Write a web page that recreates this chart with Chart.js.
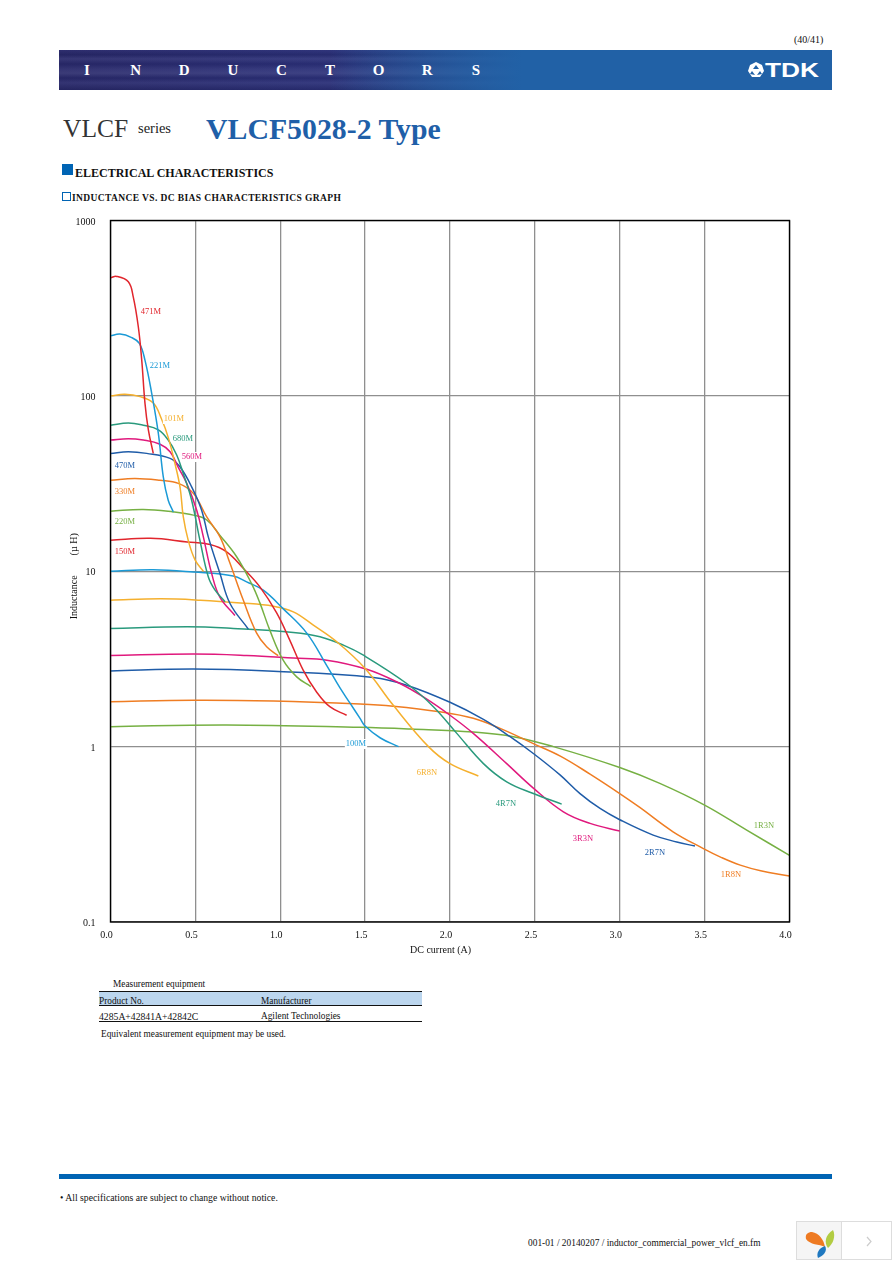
<!DOCTYPE html>
<html>
<head>
<meta charset="utf-8">
<title>VLCF5028-2 Type</title>
<script src="https://cdn.jsdelivr.net/npm/chart.js@4"></script>
<style>
  html, body { margin: 0; padding: 0; background: #fff; }
  body { position: relative; width: 892px; height: 1263px; overflow: hidden; font-family: "Liberation Serif", serif; color: #111; }
  .t { position: absolute; white-space: nowrap; line-height: 1; }
  .box { position: absolute; }
  #banner {
    position: absolute; left: 59px; top: 50px; width: 773px; height: 40px;
    background:
      linear-gradient(90deg, rgba(33,96,166,0) 0, rgba(33,96,166,0) 35%, #2161a6 60%),
      linear-gradient(180deg, rgba(255,255,255,.03) 0, rgba(0,0,0,.08) 12%, rgba(255,255,255,.07) 22%, rgba(0,0,0,.05) 35%, rgba(255,255,255,.06) 48%, rgba(255,255,255,.09) 58%, rgba(0,0,0,.06) 70%, rgba(255,255,255,.06) 82%, rgba(0,0,0,.1) 100%),
      linear-gradient(90deg, #28286a 0, #2a2f78 35%, #2c4f93 60%, #2161a6 80%);
  }
  #banner span { position: absolute; top: 13px; width: 30px; margin-left: -15px; text-align: center; color: #fff; font-weight: bold; font-size: 15px; line-height: 1; }
  #chartBox { position: absolute; left: 60px; top: 210px; }
</style>
</head>
<body>
<div class="t" style="left:794px;top:35px;font-size:10px">(40/41)</div>
<div id="banner"></div>
<svg class="box" style="left:748px;top:61px" width="72" height="18" viewBox="0 0 72 18">
  <polygon points="8,1 14,4 16,10 12,16 4,16 0,10 2,4" fill="#fff"/>
  <polygon points="8,4 11,8 5,8" fill="#2161a6"/>
  <polygon points="4,10 7,14 2,13" fill="#2161a6"/>
  <polygon points="12,10 14,13 9,14" fill="#2161a6"/>
  <text x="17" y="16" font-family="Liberation Sans" font-weight="bold" font-size="20" fill="#fff" textLength="54" lengthAdjust="spacingAndGlyphs">TDK</text>
</svg>

<div class="t" style="left:63px;top:116px;font-size:25.5px;color:#333">VLCF</div>
<div class="t" style="left:138px;top:121px;font-size:14.5px;color:#222">series</div>
<div class="t" style="left:206px;top:114px;font-size:29.8px;font-weight:bold;color:#1f5fa8">VLCF5028-2 Type</div>

<div class="box" style="left:62px;top:164px;width:11px;height:11px;background:#0064b4"></div>
<div class="t" style="left:75px;top:167px;font-size:12px;font-weight:bold">ELECTRICAL CHARACTERISTICS</div>
<div class="box" style="left:62px;top:192px;width:7px;height:7px;border:1px solid #0064b4"></div>
<div class="t" style="left:72px;top:194px;font-size:9.5px;font-weight:bold;letter-spacing:.38px">INDUCTANCE VS. DC BIAS CHARACTERISTICS GRAPH</div>

<div id="chartBox"><canvas id="inductance-chart" width="740" height="750"></canvas></div>
<div class="t" style="left:410px;top:945px;font-size:10px">DC current (A)</div>

<div class="t" style="left:113px;top:980px;font-size:9.3px">Measurement equipment</div>
<div class="box" style="left:99px;top:991px;width:323px;height:15px;background:#bcd6ee;border-top:1px solid #111;border-bottom:1px solid #111;box-sizing:border-box"></div>
<div class="t" style="left:99px;top:997px;font-size:9.3px">Product No.</div>
<div class="t" style="left:261px;top:997px;font-size:9.3px">Manufacturer</div>
<div class="t" style="left:99px;top:1012px;font-size:9.7px">4285A+42841A+42842C</div>
<div class="t" style="left:261px;top:1012px;font-size:9.3px">Agilent Technologies</div>
<div class="box" style="left:99px;top:1021px;width:323px;height:1px;background:#111"></div>
<div class="t" style="left:101px;top:1030px;font-size:9.3px">Equivalent measurement equipment may be used.</div>

<div class="box" style="left:59px;top:1174px;width:773px;height:5px;background:#0064b4"></div>
<div class="t" style="left:60px;top:1193px;font-size:9.7px">• All specifications are subject to change without notice.</div>
<div class="t" style="left:528px;top:1239px;font-size:9.4px">001-01 / 20140207 / inductor_commercial_power_vlcf_en.fm</div>

<div class="box" style="left:796px;top:1221px;width:46px;height:39px;background:#f5f5f5;border:1px solid #ddd;box-sizing:border-box"></div>
<div class="box" style="left:842px;top:1221px;width:50px;height:39px;background:#fff;border:1px solid #ddd;border-left:0;box-sizing:border-box"></div>
<svg class="box" style="left:804px;top:1228px" width="80" height="32" viewBox="0 0 80 32">
  <path d="M2 11 C1 6 4 4 8 4 C15 5 20 12 21 19 C15 16 6 17 2 11Z" fill="#ee7a22"/>
  <path d="M24 20 C20 15 21 7 29 2 C32 8 29 16 24 20Z" fill="#b2cc42"/>
  <path d="M21 18 C24 23 19 28 14 30 C12 25 15 20 21 18Z" fill="#1f78c0"/>
  <polyline points="63,9 67,13.5 63,18" fill="none" stroke="#ccc" stroke-width="1.2"/>
</svg>

<script>
const seriesNames = ['471M', '221M', '101M', '680M', '560M', '470M', '330M', '220M', '150M', '100M', '6R8N', '4R7N', '3R3N', '2R7N', '1R8N', '1R3N'];
const seriesColors = ['#e1262d', '#1b9ad6', '#f5b02e', '#2a9a7d', '#e0197d', '#1f5ca8', '#ef7d23', '#76b043', '#e1262d', '#1b9ad6', '#f5b02e', '#2a9a7d', '#e0197d', '#1f5ca8', '#ef7d23', '#76b043'];

// DC current (A) / inductance (uH)
const amps471M = [0, .036, .105, .134, .164, .184, .203, .223, .252];
const uh471M = [471, 480, 447, 367, 247, 160, 91, 64, 47];
const amps221M = [0, .056, .125, .17, .203, .243, .282, .311, .34, .37];
const uh221M = [220, 225, 215, 199, 160, 103, 61, 34.5, 25.4, 21.8];
const amps101M = [0, .085, .174, .252, .3, .34, .38, .41, .429, .458, .498, .547];
const uh101M = [100, 102, 99, 91, 74, 58, 41, 30, 20.4, 15, 11.6, 10];
const amps680M = [0, .105, .193, .282, .34, .39, .429, .478, .527, .576, .616, .675];
const uh680M = [68, 70, 68, 64, 56, 46, 36, 25.4, 15, 9.3, 7.8, 6.7];
const amps560M = [0, .105, .193, .292, .351, .4, .449, .508, .547, .596, .645, .733];
const uh560M = [56, 57, 56, 53, 48, 39, 31.7, 22.3, 15.7, 9.7, 7.1, 5.6];
const amps470M = [0, .105, .213, .351, .409, .478, .537, .576, .645, .704, .812];
const uh470M = [47, 48, 47, 44, 39.4, 30.3, 22.3, 15.7, 9.7, 6.55, 4.68];
const amps330M = [0, .144, .292, .4, .488, .567, .645, .704, .782, .861, .92, .988];
const uh330M = [33, 33.8, 33, 31.7, 27.8, 20.4, 15.7, 11.1, 6.85, 4.44, 3.71, 3.3];
const amps220M = [0, .193, .37, .488, .567, .645, .743, .831, .88, .939, 1.018, 1.097, 1.18];
const uh220M = [22, 22.5, 21.8, 20.9, 19.6, 16, 12.1, 8.5, 6.6, 4.6, 3.1, 2.5, 2.2];
const amps150M = [0, .236, .452, .586, .684, .782, .88, .978, 1.056, 1.135, 1.214, 1.292, 1.391];
const uh150M = [15, 15.4, 14.7, 14.2, 12.9, 10.4, 8.15, 5.8, 4.05, 2.73, 2.05, 1.69, 1.51];
const amps100M = [0, .252, .488, .723, .802, .9, 1.018, 1.156, 1.274, 1.352, 1.411, 1.47, 1.5, 1.59, 1.697];
const uh100M = [10, 10.2, 9.9, 9.4, 8.7, 7.8, 6.1, 4.44, 2.9, 2.16, 1.77, 1.45, 1.31, 1.12, 1];
const amps6R8N = [0, .295, .53, .766, .96, 1.077, 1.195, 1.333, 1.5, 1.666, 1.873, 2, 2.167];
const uh6R8N = [6.84, 6.96, 6.84, 6.6, 6.32, 5.87, 4.93, 3.96, 2.79, 1.72, 1, .8, .68];
const amps4R7N = [0, .452, .723, 1.077, 1.234, 1.372, 1.49, 1.745, 1.902, 2.04, 2.197, 2.334, 2.491, 2.658];
const uh4R7N = [4.72, 4.82, 4.72, 4.48, 4.23, 3.79, 3.32, 2.29, 1.69, 1.19, .8, .63, .54, .47];
const amps3R3N = [0, .488, .802, 1.077, 1.274, 1.51, 1.705, 1.843, 2, 2.137, 2.334, 2.491, 2.668, 2.825, 3];
const uh3R3N = [3.31, 3.37, 3.31, 3.2, 3.11, 2.76, 2.29, 1.92, 1.51, 1.19, .8, .58, .425, .365, .33];
const amps2R7N = [0, .488, .96, 1.548, 1.745, 2, 2.197, 2.354, 2.491, 2.648, 2.766, 2.884, 3, 3.197, 3.336, 3.443];
const uh2R7N = [2.7, 2.77, 2.69, 2.48, 2.24, 1.79, 1.43, 1.14, .914, .69, .54, .444, .383, .313, .286, .271];
const amps1R8N = [0, .488, .96, 1.47, 1.666, 1.94, 2.137, 2.295, 2.491, 2.65, 2.825, 3, 3.118, 3.314, 3.49, 3.6, 3.71, 3.83, 4];
const uh1R8N = [1.8, 1.84, 1.82, 1.75, 1.7, 1.58, 1.45, 1.27, 1.04, .883, .697, .54, .45, .327, .263, .233, .211, .196, .183];
const amps1R3N = [0, .684, 1.47, 1.77, 2.137, 2.373, 2.609, 3, 3.236, 3.5, 3.748, 4];
const uh1R3N = [1.3, 1.33, 1.29, 1.26, 1.21, 1.14, 1, .76, .617, .464, .334, .24];

const allAmps = [amps471M, amps221M, amps101M, amps680M, amps560M, amps470M, amps330M, amps220M, amps150M, amps100M, amps6R8N, amps4R7N, amps3R3N, amps2R7N, amps1R8N, amps1R3N];
const allUh = [uh471M, uh221M, uh101M, uh680M, uh560M, uh470M, uh330M, uh220M, uh150M, uh100M, uh6R8N, uh4R7N, uh3R3N, uh2R7N, uh1R8N, uh1R3N];

const yTicks = [0.1, 1, 10, 100, 1000];
// where each curve's name sits, canvas pixels
const labelSpots = [[91, 102], [100, 156], [114, 209], [123, 229], [132, 247], [65, 256], [65, 282], [65, 312], [65, 342], [296, 534], [367, 563], [446, 594], [523, 629], [595, 643], [671, 665], [704, 616]];

const curveLabels = {
  id: 'curveLabels',
  afterDatasetsDraw(chart) {
    const ctx = chart.ctx, a = chart.chartArea;
    ctx.save();
    // full black frame, chart.js only borders two sides
    ctx.strokeStyle = '#000';
    ctx.lineWidth = 1.4;
    ctx.strokeRect(a.left, a.top, a.right - a.left, a.bottom - a.top);
    ctx.font = '8.5px "Liberation Serif"';
    ctx.textAlign = 'center';
    ctx.textBaseline = 'middle';
    seriesNames.forEach((name, i) => {
      const [x, y] = labelSpots[i];
      const w = ctx.measureText(name).width + 2;
      ctx.fillStyle = '#fff';
      ctx.fillRect(x - w / 2, y - 5, w, 10);
      ctx.fillStyle = seriesColors[i];
      ctx.fillText(name, x, y);
    });
    ctx.restore();
  }
};

const chartCanvas = document.getElementById('inductance-chart');
new Chart(chartCanvas, {
  type: 'scatter',
  data: {
    datasets: seriesNames.map((name, i) => ({
      label: name,
      data: allAmps[i].map((a, j) => ({ x: a, y: allUh[i][j] })),
      showLine: true,
      borderColor: seriesColors[i],
      borderWidth: 1.5,
      pointRadius: 0,
      tension: 0.4
    }))
  },
  options: {
    responsive: false,
    animation: false,
    devicePixelRatio: 1,
    plugins: { legend: { display: false }, tooltip: { enabled: false } },
    scales: {
      x: {
        type: 'linear',
        min: 0,
        max: 4,
        // tick padding otherwise eats into the plot area
        afterFit: s => { s.height = 38; s.paddingLeft = 0; s.paddingRight = 10.5; },
        grid: { color: '#8f8f8f', lineWidth: 1.3, drawTicks: false },
        border: { display: false },
        ticks: {
          stepSize: 0.5,
          padding: 7,
          labelOffset: -4,
          maxRotation: 0,
          color: '#111',
          font: { family: 'Liberation Serif', size: 10 },
          callback: v => v.toFixed(1)
        }
      },
      y: {
        type: 'logarithmic',
        min: 0.1,
        max: 1000,
        afterFit: s => { s.width = 50.5; s.paddingTop = 10.5; s.paddingBottom = 0; },
        afterBuildTicks: s => { s.ticks = yTicks.map(v => ({ value: v })); },
        grid: { color: '#8f8f8f', lineWidth: 1.3, drawTicks: false },
        border: { display: false },
        title: {
          display: true,
          text: 'Inductance        (µ H)\u00a0\u00a0\u00a0\u00a0',
          color: '#111',
          font: { family: 'Liberation Serif', size: 10 },
          padding: { top: 8, bottom: 0 }
        },
        ticks: {
          padding: 15,
          labelOffset: 1.5,
          color: '#111',
          font: { family: 'Liberation Serif', size: 10 },
          callback: v => String(v)
        }
      }
    }
  },
  plugins: [curveLabels]
});

const bannerLetters = ['I', 'N', 'D', 'U', 'C', 'T', 'O', 'R', 'S'];
const banner = document.getElementById('banner');
bannerLetters.forEach((c, i) => {
  const s = document.createElement('span');
  s.textContent = c;
  s.style.left = (28 + i * 48.6) + 'px';
  banner.appendChild(s);
});
</script>
</body>
</html>
